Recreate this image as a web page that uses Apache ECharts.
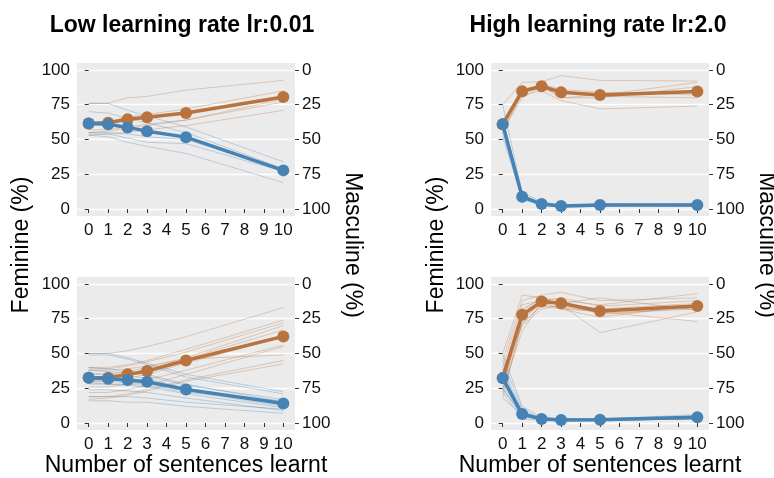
<!DOCTYPE html>
<html><head><meta charset="utf-8">
<script src="https://cdn.jsdelivr.net/npm/echarts@6/dist/echarts.min.js"></script>
<style>html,body{margin:0;padding:0;background:#fff}#c{width:774px;height:478px}</style>
</head><body><div id="c"></div>
<script>
// x positions (number of sentences learnt)
const X = [0, 1, 2, 3, 5, 10];
const xTicks = [0,1,2,3,4,5,6,7,8,9,10];
const yTicks = [0, 25, 50, 75, 100];
const panelTitles = ['Low learning rate lr:0.01', 'High learning rate lr:2.0'];

// Low lr, top panel
const lowTopOrangeMean = [61.5, 62, 64.5, 66, 69, 80.5];
const lowTopBlueMean   = [61.5, 61, 58.7, 56, 51.7, 27.8];
const lowTopOrangeRuns = [
  [76, 76, 80, 81, 85.5, 92.5],
  [63, 63, 66, 68, 72, 85],
  [57, 57, 59, 61, 64, 77],
  [53, 54, 55, 57, 60, 71],
  [55, 56, 58, 60, 64, 79]
];
const lowTopBlueRuns = [
  [76, 76, 71, 67, 59, 34],
  [70, 69, 65, 62, 55, 29],
  [54, 54, 51, 48, 47, 27],
  [53, 52, 48, 45, 40, 19],
  [55, 55, 54, 52, 50, 28]
];

// Low lr, bottom panel
const lowBotOrangeMean = [32.6, 32.6, 35, 37.4, 45, 62.3];
const lowBotBlueMean   = [32.6, 31.9, 31, 29.7, 24.2, 14];
const lowBotOrangeRuns = [
  [50, 50, 52, 55, 62, 83],
  [40, 40, 42, 45, 53, 74],
  [39, 39, 41, 44, 51, 72],
  [35, 35, 37, 40, 47, 70],
  [33, 33, 35, 38, 46, 67],
  [30, 30, 32, 35, 43, 62],
  [26, 26, 28, 31, 38, 56],
  [22, 22, 24, 27, 35, 55],
  [38, 38, 39, 41, 46, 49],
  [19, 19, 21, 24, 31, 45],
  [17, 18, 20, 23, 30, 42.5],
  [31, 31, 34, 37, 45, 63]
];
const lowBotBlueRuns = [
  [50, 50, 47, 43, 35, 22.5],
  [49, 49, 46, 42, 33, 21],
  [40, 39, 37, 35, 28, 15],
  [38, 37, 36, 34, 27, 17],
  [33, 32, 31, 30, 25, 14],
  [30, 30, 29, 28, 23, 12],
  [28, 28, 27, 26, 21, 11],
  [24, 24, 23, 22, 18, 9],
  [19, 19, 19, 18, 15, 10],
  [16, 16, 15, 15, 12, 7],
  [36, 35, 34, 32, 25, 13],
  [29, 28, 28, 27, 22, 16]
];

// High lr, top panel
const highTopOrangeMean = [61, 84.7, 88.3, 84, 82, 84.5];
const highTopBlueMean   = [61, 8.9, 3.6, 2.2, 2.9, 2.9];
const highTopOrangeRuns = [
  [75, 91, 91.5, 96, 92.5, 92],
  [58, 82, 85, 78, 72, 74],
  [62, 86, 89, 80, 82, 91],
  [55, 84, 90, 86, 84, 82],
  [60, 85, 87, 84, 81, 80],
  [56, 80, 88, 80, 80, 88]
];
const highTopBlueRuns = [
  [75, 12, 5, 3, 3, 4],
  [52, 7, 3, 2, 2, 2],
  [58, 10, 4, 2, 3, 3],
  [65, 9, 3, 2, 4, 3],
  [55, 8, 4, 3, 3, 2],
  [61, 7, 3, 1, 2, 4]
];

// High lr, bottom panel
const highBotOrangeMean = [32.3, 77.8, 87.4, 86.1, 80.6, 84.2];
const highBotBlueMean   = [32.3, 6.5, 2.9, 2.2, 2.4, 4.1];
const highBotOrangeRuns = [
  [50, 92, 90, 88, 85, 93],
  [45, 88, 92, 94, 88, 90],
  [40, 85, 88, 90, 84, 88],
  [38, 70, 82, 85, 65, 80],
  [35, 82, 89, 86, 82, 86],
  [33, 75, 86, 88, 78, 83],
  [30, 80, 91, 84, 80, 73],
  [28, 72, 84, 82, 76, 85],
  [25, 78, 88, 86, 79, 82],
  [22, 71, 85, 83, 80, 84],
  [18, 74, 87, 86, 90, 81],
  [24, 66, 87, 82, 80, 85]
];
const highBotBlueRuns = [
  [50, 12, 4, 3, 3, 6],
  [45, 10, 3, 2, 2, 5],
  [40, 8, 3, 3, 3, 4],
  [38, 6, 2, 2, 2, 3],
  [35, 7, 3, 2, 3, 5],
  [33, 5, 3, 2, 2, 4],
  [30, 6, 2, 2, 2, 3],
  [28, 4, 3, 2, 3, 4],
  [25, 5, 3, 2, 2, 5],
  [22, 3, 2, 2, 2, 3],
  [18, 6, 4, 3, 3, 4],
  [24, 6, 3, 2, 2, 3]
];

const ORANGE = '#B8733F';
const BLUE = '#4682B4';
const FONT = '"Liberation Sans", Arial, sans-serif';

const panels = [
  {om: lowTopOrangeMean, bm: lowTopBlueMean, or: lowTopOrangeRuns, br: lowTopBlueRuns},
  {om: lowBotOrangeMean, bm: lowBotBlueMean, or: lowBotOrangeRuns, br: lowBotBlueRuns},
  {om: highTopOrangeMean, bm: highTopBlueMean, or: highTopOrangeRuns, br: highTopBlueRuns},
  {om: highBotOrangeMean, bm: highBotBlueMean, or: highBotOrangeRuns, br: highBotBlueRuns}
];
const gridPos = [
  {left: 77, top: 63, width: 218, height: 153},
  {left: 77, top: 277, width: 218, height: 153},
  {left: 491, top: 63, width: 218, height: 153},
  {left: 491, top: 277, width: 218, height: 153}
];

const labelStyle = {color: '#111', fontSize: 17, fontFamily: FONT};
const tickStyle = {show: true, length: 4, lineStyle: {color: '#333', width: 1}};

const grids = [], xAxes = [], yAxes = [], series = [];
const pts = arr => X.map((x, j) => [x, arr[j]]);

panels.forEach((p, i) => {
  grids.push(Object.assign({show: true, backgroundColor: '#EBEBEB', borderWidth: 0, containLabel: false}, gridPos[i]));
  xAxes.push({
    type: 'value', gridIndex: i, min: -0.6, max: 10.6,
    axisLine: {show: false},
    axisTick: Object.assign({customValues: xTicks}, tickStyle),
    axisLabel: Object.assign({customValues: xTicks, margin: 6}, labelStyle),
    splitLine: {show: false}
  });
  yAxes.push({
    type: 'value', gridIndex: i, min: -5, max: 105, position: 'left',
    axisLine: {show: false},
    axisTick: Object.assign({customValues: yTicks}, tickStyle),
    axisLabel: Object.assign({customValues: yTicks, margin: 7}, labelStyle),
    splitLine: {show: true, lineStyle: {color: '#ffffff', width: 1.3}}
  });
  yAxes.push({
    type: 'value', gridIndex: i, min: -5, max: 105, position: 'right', inverse: true,
    axisLine: {show: false},
    axisTick: Object.assign({customValues: yTicks}, tickStyle),
    axisLabel: Object.assign({customValues: yTicks, margin: 7}, labelStyle),
    splitLine: {show: false}
  });
  const common = {type: 'line', xAxisIndex: i, yAxisIndex: 2 * i, silent: true, animation: false, clip: false};
  p.or.forEach(r => series.push(Object.assign({}, common, {
    data: pts(r), symbol: 'none', z: 2,
    lineStyle: {color: ORANGE, width: 1, opacity: 0.32}
  })));
  p.br.forEach(r => series.push(Object.assign({}, common, {
    data: pts(r), symbol: 'none', z: 2,
    lineStyle: {color: BLUE, width: 1, opacity: 0.32}
  })));
  series.push(Object.assign({}, common, {
    data: pts(p.om), symbol: 'circle', symbolSize: 12, z: 3,
    lineStyle: {color: ORANGE, width: 3.5}, itemStyle: {color: ORANGE}
  }));
  series.push(Object.assign({}, common, {
    data: pts(p.bm), symbol: 'circle', symbolSize: 12, z: 4,
    lineStyle: {color: BLUE, width: 3.5}, itemStyle: {color: BLUE}
  }));
});

const txt = (s, x, y, size, rot, bold) => ({
  type: 'text', x: x, y: y, rotation: rot || 0, silent: true,
  style: {text: s, align: 'center', verticalAlign: 'middle', fill: '#000',
    font: (bold ? 'bold ' : '') + size + 'px ' + FONT}
});

const chart = echarts.init(document.getElementById('c'), null, {renderer: 'canvas'});
chart.setOption({
  animation: false,
  grid: grids, xAxis: xAxes, yAxis: yAxes, series: series,
  graphic: [
    txt(panelTitles[0], 182, 26, 23, 0, true),
    txt(panelTitles[1], 598, 26, 23, 0, true),
    txt('Feminine (%)', 22, 245, 23, Math.PI / 2),
    txt('Feminine (%)', 437, 245, 23, Math.PI / 2),
    txt('Masculine (%)', 352, 245, 23, -Math.PI / 2),
    txt('Masculine (%)', 766, 245, 23, -Math.PI / 2),
    txt('Number of sentences learnt', 186, 466, 23),
    txt('Number of sentences learnt', 600, 466, 23)
  ]
});
</script></body></html>
